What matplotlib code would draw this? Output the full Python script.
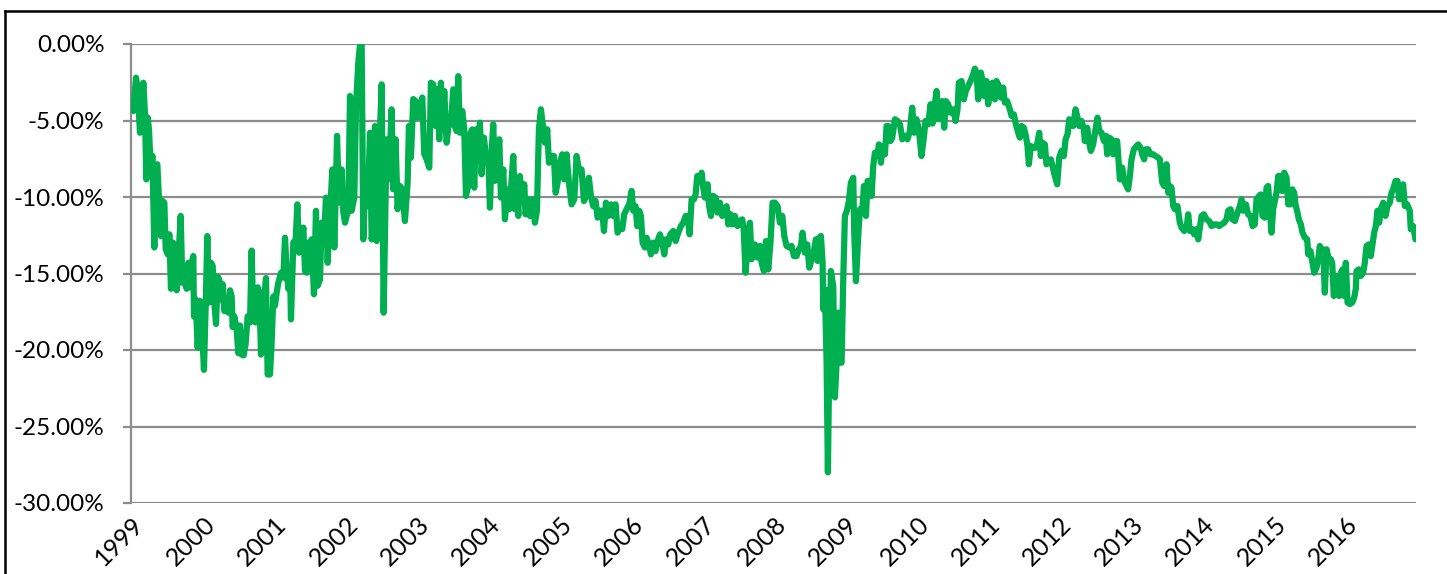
import numpy as np
import matplotlib
matplotlib.use("Agg")
import matplotlib.pyplot as plt
from matplotlib.lines import Line2D
from matplotlib.ticker import FuncFormatter
from matplotlib.transforms import ScaledTranslation

plt.rcParams["font.family"] = ["Lato", "DejaVu Sans"]

# weekly drawdown (date as decimal year, value in %)
dates_99_02 = [1999.009, 1999.033, 1999.070, 1999.093, 1999.126, 1999.149, 1999.173, 1999.196, 1999.215, 1999.233,
               1999.252, 1999.280, 1999.299, 1999.327, 1999.346, 1999.369, 1999.397, 1999.420, 1999.444, 1999.467,
               1999.486, 1999.514, 1999.537, 1999.560, 1999.588, 1999.616, 1999.640, 1999.663, 1999.696, 1999.719,
               1999.747, 1999.780, 1999.803, 1999.826, 1999.850, 1999.873, 1999.882, 1999.906, 1999.934, 1999.966,
               1999.990, 2000.022, 2000.046, 2000.069, 2000.093, 2000.121, 2000.144, 2000.167, 2000.191, 2000.214,
               2000.237, 2000.261, 2000.284, 2000.307, 2000.340, 2000.363, 2000.387, 2000.410, 2000.424, 2000.447,
               2000.480, 2000.503, 2000.527, 2000.550, 2000.578, 2000.606, 2000.634, 2000.667, 2000.690, 2000.714,
               2000.746, 2000.774, 2000.798, 2000.821, 2000.844, 2000.868, 2000.891, 2000.914, 2000.947, 2000.970,
               2000.994, 2001.017, 2001.040, 2001.064, 2001.101, 2001.134, 2001.157, 2001.180, 2001.204, 2001.227,
               2001.241, 2001.274, 2001.307, 2001.330, 2001.353, 2001.381, 2001.414, 2001.437, 2001.461, 2001.484,
               2001.507, 2001.531, 2001.563, 2001.591, 2001.615, 2001.647, 2001.671, 2001.703, 2001.731, 2001.755,
               2001.778, 2001.801, 2001.820, 2001.848, 2001.867, 2001.886, 2001.904, 2001.928, 2001.951, 2001.974,
               2001.998, 2002.021, 2002.044, 2002.068, 2002.091, 2002.128, 2002.152, 2002.184, 2002.208, 2002.231,
               2002.254, 2002.287, 2002.315, 2002.348, 2002.371, 2002.394, 2002.418, 2002.441, 2002.474, 2002.511,
               2002.539]
dd_99_02 = [-3.73, -4.38, -2.20, -2.85, -5.80, -4.05, -2.53, -4.60, -8.85, -4.80,
            -5.58, -8.60, -7.30, -13.30, -7.97, -7.86, -10.60, -12.55, -10.26, -10.37,
            -13.40, -13.75, -12.44, -16.00, -12.98, -13.30, -16.10, -14.07, -11.24, -15.60,
            -15.27, -16.00, -14.30, -15.90, -14.30, -13.86, -17.80, -16.70, -19.85, -16.80,
            -18.20, -21.30, -17.10, -12.55, -16.90, -14.30, -14.50, -16.90, -18.30, -15.20,
            -15.40, -16.70, -15.70, -17.45, -17.00, -17.56, -16.10, -16.50, -18.50, -17.80,
            -18.65, -20.20, -18.40, -20.30, -20.35, -19.60, -17.80, -18.20, -13.50, -18.10,
            -18.20, -15.90, -16.25, -20.30, -18.00, -16.50, -15.30, -21.60, -21.60, -19.50,
            -16.50, -17.10, -16.25, -15.60, -14.95, -15.27, -12.66, -14.70, -16.00, -14.60,
            -18.00, -12.98, -12.77, -10.48, -13.64, -13.20, -12.00, -14.84, -14.95, -12.98,
            -14.07, -12.77, -16.36, -10.90, -15.80, -15.40, -11.68, -12.77, -10.04, -14.30,
            -11.46, -9.93, -8.20, -13.30, -9.93, -6.00, -8.85, -10.37, -8.20, -11.00,
            -11.68, -11.24, -10.80, -3.40, -10.90, -10.04, -4.05, -1.22, -0.02, 0.00,
            -12.77, -8.20, -10.60, -5.80, -12.77, -12.10, -5.36, -12.88, -7.50, -2.64,
            -17.56]

dates_02_06 = [2002.580, 2002.613, 2002.650, 2002.674, 2002.706, 2002.734, 2002.767, 2002.800, 2002.837, 2002.875,
               2002.893, 2002.921, 2002.954, 2002.987, 2003.015, 2003.047, 2003.080, 2003.108, 2003.141, 2003.178,
               2003.201, 2003.234, 2003.267, 2003.295, 2003.318, 2003.341, 2003.365, 2003.388, 2003.421, 2003.453,
               2003.481, 2003.514, 2003.537, 2003.561, 2003.584, 2003.608, 2003.640, 2003.668, 2003.692, 2003.724,
               2003.757, 2003.780, 2003.808, 2003.832, 2003.855, 2003.888, 2003.911, 2003.944, 2003.967, 2004.004,
               2004.028, 2004.051, 2004.074, 2004.098, 2004.131, 2004.159, 2004.182, 2004.215, 2004.238, 2004.271,
               2004.299, 2004.322, 2004.355, 2004.378, 2004.401, 2004.425, 2004.448, 2004.471, 2004.509, 2004.527,
               2004.555, 2004.588, 2004.621, 2004.658, 2004.686, 2004.714, 2004.742, 2004.775, 2004.798, 2004.831,
               2004.854, 2004.892, 2004.924, 2004.948, 2004.976, 2005.008, 2005.041, 2005.069, 2005.102, 2005.134,
               2005.172, 2005.209, 2005.242, 2005.274, 2005.312, 2005.344, 2005.382, 2005.414, 2005.442, 2005.475,
               2005.508, 2005.536, 2005.569, 2005.601, 2005.625, 2005.653, 2005.685, 2005.723, 2005.755, 2005.788,
               2005.816, 2005.849, 2005.881, 2005.909, 2005.942, 2005.979, 2006.012, 2006.035, 2006.068, 2006.091,
               2006.119, 2006.143, 2006.166, 2006.199]
dd_02_06 = [-6.23, -8.85, -4.27, -9.50, -6.23, -10.80, -9.28, -9.50, -11.57, -9.06,
            -5.36, -7.43, -3.60, -3.73, -4.81, -4.27, -3.50, -7.20, -7.54, -8.08,
            -2.53, -2.64, -5.36, -2.96, -6.23, -2.53, -5.58, -3.07, -6.45, -5.14,
            -5.25, -2.96, -5.36, -5.69, -2.10, -5.80, -4.38, -5.58, -9.93, -9.28,
            -5.80, -5.58, -9.39, -5.58, -7.54, -5.14, -8.52, -6.12, -7.10, -7.32,
            -10.70, -7.10, -5.25, -8.95, -7.32, -6.23, -10.04, -8.20, -11.46, -9.50,
            -10.80, -9.50, -7.32, -10.80, -9.28, -11.24, -8.63, -9.93, -9.17, -11.13,
            -10.15, -11.24, -10.15, -11.68, -10.90, -5.58, -4.27, -5.58, -6.45, -5.58,
            -7.76, -7.32, -7.32, -9.72, -9.06, -7.76, -7.21, -8.85, -7.21, -9.06,
            -10.48, -10.15, -7.32, -8.20, -8.20, -10.26, -9.93, -8.74, -9.93, -10.60,
            -10.26, -11.35, -10.90, -10.90, -12.22, -10.37, -11.24, -10.48, -11.24, -10.48,
            -12.33, -12.00, -12.10, -11.13, -10.80, -10.48, -9.60, -10.90, -10.60, -11.90,
            -10.90, -11.24, -12.98, -13.30]

dates_06_09 = [2006.222, 2006.255, 2006.283, 2006.316, 2006.348, 2006.376, 2006.409, 2006.442, 2006.470, 2006.493,
               2006.526, 2006.554, 2006.596, 2006.629, 2006.666, 2006.703, 2006.736, 2006.769, 2006.797, 2006.825,
               2006.853, 2006.885, 2006.909, 2006.932, 2006.969, 2006.993, 2007.016, 2007.039, 2007.077, 2007.095,
               2007.124, 2007.156, 2007.189, 2007.217, 2007.250, 2007.282, 2007.310, 2007.343, 2007.366, 2007.399,
               2007.427, 2007.460, 2007.497, 2007.530, 2007.562, 2007.581, 2007.609, 2007.637, 2007.670, 2007.693,
               2007.716, 2007.740, 2007.777, 2007.810, 2007.833, 2007.866, 2007.894, 2007.927, 2007.959, 2007.987,
               2008.020, 2008.057, 2008.090, 2008.123, 2008.151, 2008.183, 2008.221, 2008.253, 2008.286, 2008.323,
               2008.356, 2008.384, 2008.407, 2008.440, 2008.473, 2008.501, 2008.534, 2008.566, 2008.594, 2008.618,
               2008.641, 2008.664, 2008.688, 2008.697, 2008.720, 2008.744, 2008.762, 2008.781, 2008.804, 2008.837,
               2008.860, 2008.884, 2008.907, 2008.930, 2008.954, 2008.977, 2009.000, 2009.028, 2009.056, 2009.084,
               2009.117, 2009.131, 2009.155, 2009.187, 2009.211, 2009.243, 2009.267, 2009.295, 2009.318, 2009.351,
               2009.374, 2009.397, 2009.421, 2009.458, 2009.477, 2009.505, 2009.528, 2009.561, 2009.584, 2009.607,
               2009.640, 2009.663, 2009.701, 2009.738, 2009.771, 2009.804, 2009.841]
dd_06_09 = [-12.66, -13.10, -13.75, -12.98, -13.53, -12.88, -12.44, -12.98, -13.75, -12.77,
            -13.10, -12.44, -12.22, -12.88, -12.33, -11.90, -11.68, -11.24, -11.24, -12.44,
            -10.15, -10.15, -9.83, -8.63, -8.95, -8.41, -9.39, -10.04, -9.17, -10.48,
            -11.24, -9.93, -10.04, -11.02, -10.37, -11.24, -11.02, -10.60, -11.79, -11.13,
            -11.79, -11.24, -11.90, -11.57, -11.46, -12.00, -14.95, -13.20, -11.68, -14.07,
            -13.86, -13.10, -13.96, -13.20, -14.30, -14.84, -12.88, -14.73, -12.88, -10.37,
            -10.37, -10.60, -11.68, -11.24, -12.55, -13.20, -13.30, -13.20, -13.86, -13.86,
            -13.42, -13.20, -12.33, -13.64, -13.10, -14.62, -14.07, -13.53, -12.77, -14.18,
            -12.66, -12.55, -14.30, -17.34, -16.03, -20.83, -28.00, -20.83, -14.84, -15.82,
            -23.10, -20.83, -17.56, -20.83, -20.83, -15.40, -11.24, -10.90, -10.26, -9.06,
            -8.74, -12.33, -15.50, -12.55, -10.80, -10.90, -9.28, -11.24, -8.95, -8.95,
            -9.93, -7.97, -7.10, -7.21, -6.56, -7.76, -6.67, -7.21, -5.36, -5.36,
            -6.34, -6.12, -4.92, -5.03, -5.25, -6.23, -6.00]

dates_09_13 = [2009.877, 2009.910, 2009.943, 2009.971, 2010.003, 2010.036, 2010.073, 2010.106, 2010.129, 2010.167,
               2010.200, 2010.228, 2010.260, 2010.284, 2010.307, 2010.330, 2010.363, 2010.391, 2010.414, 2010.447,
               2010.480, 2010.517, 2010.550, 2010.578, 2010.596, 2010.634, 2010.666, 2010.694, 2010.727, 2010.760,
               2010.788, 2010.821, 2010.844, 2010.867, 2010.905, 2010.928, 2010.951, 2010.984, 2011.007, 2011.040,
               2011.068, 2011.101, 2011.124, 2011.157, 2011.185, 2011.217, 2011.241, 2011.273, 2011.311, 2011.334,
               2011.367, 2011.395, 2011.428, 2011.451, 2011.474, 2011.507, 2011.535, 2011.558, 2011.577, 2011.605,
               2011.638, 2011.670, 2011.698, 2011.722, 2011.745, 2011.768, 2011.801, 2011.824, 2011.857, 2011.885,
               2011.918, 2011.941, 2011.974, 2012.002, 2012.034, 2012.067, 2012.091, 2012.119, 2012.142, 2012.175,
               2012.198, 2012.231, 2012.259, 2012.282, 2012.315, 2012.347, 2012.361, 2012.394, 2012.422, 2012.445,
               2012.478, 2012.511, 2012.539, 2012.562, 2012.595, 2012.627, 2012.655, 2012.674, 2012.702, 2012.735,
               2012.758, 2012.782, 2012.814, 2012.838, 2012.852, 2012.884, 2012.912, 2012.945, 2012.968, 2012.992,
               2013.015, 2013.048, 2013.085, 2013.108, 2013.141, 2013.164, 2013.192, 2013.216, 2013.248, 2013.281,
               2013.318, 2013.351, 2013.388, 2013.412, 2013.445, 2013.473]
dd_09_13 = [-6.23, -5.69, -4.16, -5.80, -4.92, -5.58, -7.32, -6.12, -5.03, -5.25,
            -3.94, -5.20, -3.94, -3.07, -4.92, -4.05, -3.73, -5.47, -3.73, -3.94,
            -4.49, -4.27, -5.03, -4.27, -2.53, -2.42, -3.62, -3.07, -2.75, -2.42,
            -2.10, -1.61, -1.87, -3.62, -1.87, -2.42, -3.40, -2.42, -3.94, -2.85,
            -2.53, -3.62, -2.42, -2.75, -3.50, -2.85, -3.83, -3.73, -4.27, -4.70,
            -4.60, -5.25, -5.80, -6.12, -5.36, -5.47, -6.00, -6.67, -7.86, -6.67,
            -6.78, -6.78, -6.45, -5.80, -7.32, -6.45, -6.56, -7.86, -7.65, -7.54,
            -8.20, -8.63, -9.17, -7.43, -6.99, -7.32, -6.23, -5.90, -4.92, -5.14,
            -5.36, -4.27, -4.81, -5.36, -5.03, -5.58, -6.34, -5.47, -6.45, -6.99,
            -6.56, -5.58, -4.81, -5.69, -5.80, -6.34, -6.00, -7.21, -6.12, -6.23,
            -7.21, -6.34, -6.34, -7.97, -8.85, -8.08, -8.95, -9.28, -9.50, -8.63,
            -7.54, -6.88, -6.67, -6.56, -6.78, -7.21, -7.54, -6.88, -6.88, -7.21,
            -7.21, -7.32, -7.43, -7.54, -9.06, -9.28]

dates_13_16 = [2013.505, 2013.529, 2013.552, 2013.575, 2013.599, 2013.622, 2013.659, 2013.692, 2013.715, 2013.753,
               2013.786, 2013.809, 2013.832, 2013.865, 2013.893, 2013.926, 2013.949, 2013.972, 2013.996, 2014.028,
               2014.066, 2014.103, 2014.136, 2014.173, 2014.206, 2014.243, 2014.276, 2014.313, 2014.346, 2014.369,
               2014.402, 2014.430, 2014.463, 2014.500, 2014.533, 2014.556, 2014.579, 2014.617, 2014.649, 2014.682,
               2014.710, 2014.743, 2014.766, 2014.803, 2014.827, 2014.850, 2014.883, 2014.906, 2014.929, 2014.953,
               2014.976, 2014.999, 2015.023, 2015.046, 2015.070, 2015.102, 2015.126, 2015.154, 2015.186, 2015.210,
               2015.242, 2015.266, 2015.294, 2015.312, 2015.340, 2015.359, 2015.387, 2015.410, 2015.443, 2015.476,
               2015.490, 2015.522, 2015.546, 2015.574, 2015.606, 2015.630, 2015.653, 2015.676, 2015.700, 2015.723,
               2015.747, 2015.779, 2015.807, 2015.826, 2015.849, 2015.873, 2015.901, 2015.924, 2015.947, 2015.971,
               2015.994, 2016.017, 2016.041, 2016.073, 2016.106, 2016.134, 2016.157, 2016.167, 2016.199, 2016.227,
               2016.260, 2016.283, 2016.307, 2016.339, 2016.367, 2016.391, 2016.414, 2016.437, 2016.461, 2016.484,
               2016.507, 2016.540, 2016.573, 2016.601, 2016.633, 2016.657, 2016.680, 2016.713, 2016.741, 2016.764,
               2016.787, 2016.820, 2016.843, 2016.876, 2016.913, 2016.927, 2016.960, 2016.993]
dd_13_16 = [-7.86, -9.72, -9.28, -9.39, -10.59, -10.80, -10.59, -11.68, -12.00, -12.22,
            -12.00, -11.13, -12.22, -12.10, -12.44, -12.10, -12.77, -12.00, -11.24, -11.13,
            -11.46, -11.57, -11.90, -11.79, -11.79, -11.90, -11.79, -11.68, -11.46, -10.90,
            -10.80, -11.46, -11.57, -11.02, -10.59, -10.15, -10.90, -10.48, -11.13, -11.24,
            -11.90, -11.79, -10.15, -9.93, -9.83, -11.24, -11.35, -9.39, -9.28, -10.90,
            -12.33, -10.80, -10.26, -9.72, -8.63, -8.63, -9.61, -8.41, -8.74, -10.48,
            -10.48, -9.50, -9.72, -10.48, -11.02, -11.46, -11.79, -12.33, -12.66, -12.77,
            -13.75, -13.53, -14.18, -14.95, -14.62, -14.07, -13.20, -13.86, -13.42, -16.25,
            -13.42, -14.07, -14.07, -14.30, -16.47, -15.27, -15.16, -16.47, -14.95, -14.73,
            -16.47, -14.30, -16.90, -17.00, -16.90, -16.58, -16.00, -14.84, -14.73, -15.16,
            -14.95, -14.30, -13.20, -13.10, -13.86, -13.10, -12.33, -11.90, -10.90, -11.68,
            -10.80, -10.37, -11.24, -10.59, -10.37, -9.72, -9.50, -8.95, -8.95, -10.15,
            -9.72, -9.17, -10.59, -10.48, -10.90, -12.10, -11.90, -12.77]

years = list(range(1999, 2017))
y_ticks = [0, -5, -10, -15, -20, -25, -30]

dates = np.concatenate([dates_99_02, dates_02_06, dates_06_09, dates_09_13, dates_13_16])
drawdown = np.concatenate([dd_99_02, dd_02_06, dd_06_09, dd_09_13, dd_13_16])

fig = plt.figure(figsize=(14.47, 5.74), dpi=100)
ax = fig.add_axes([131 / 1447, 1 - 503 / 574, (1416 - 131) / 1447, (503 - 44) / 574])

ax.plot(dates, drawdown, color="#00B050", lw=4.5, solid_joinstyle="round", solid_capstyle="round", zorder=3)

ax.set_xlim(1999, 2017)
ax.set_ylim(-30, 0)
ax.set_yticks(y_ticks)
ax.yaxis.set_major_formatter(FuncFormatter(lambda v, _: f"{v:.2f}%"))
ax.set_xticks(years)
ax.set_xticklabels([str(y) for y in years])

grid_col = "#8c8c8c"
ax.grid(axis="y", color=grid_col, lw=1.6, zorder=1)
for side in ["top", "right", "bottom"]:
    ax.spines[side].set_visible(False)
ax.spines["left"].set_color(grid_col)
ax.spines["left"].set_linewidth(1.6)
ax.tick_params(axis="y", length=6, width=1.6, color=grid_col, pad=13, labelsize=17.5, labelcolor="black")
ax.tick_params(axis="x", length=0, pad=13, labelsize=18, labelcolor="black")

shift = ScaledTranslation(9 / 100, 0, fig.dpi_scale_trans)
for lbl in ax.get_xticklabels():
    lbl.set_rotation(45)
    lbl.set_ha("right")
    lbl.set_va("center")
    lbl.set_rotation_mode("anchor")
    lbl.set_transform(lbl.get_transform() + shift)

# outer chart frame, cut off at the right and bottom
fig.add_artist(Line2D([5 / 1447, 5 / 1447], [0, 1 - 11 / 574], transform=fig.transFigure, color="black", lw=1.8))
fig.add_artist(Line2D([5 / 1447, 1], [1 - 11 / 574, 1 - 11 / 574], transform=fig.transFigure, color="black", lw=1.8))

fig.savefig("out.png", dpi=100)
